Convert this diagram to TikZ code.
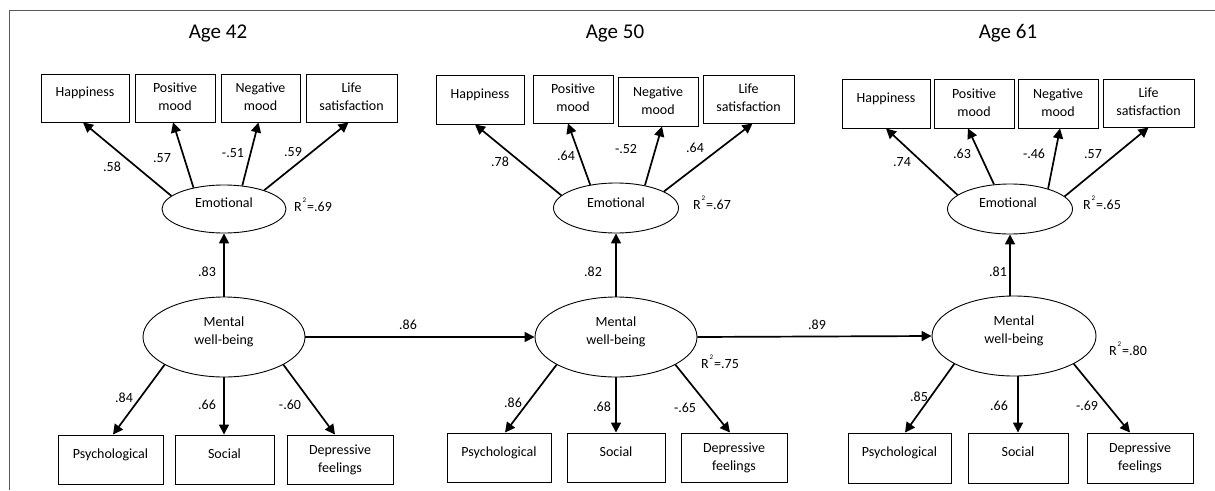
\documentclass[tikz,border=0pt]{standalone}
\usepackage{fontspec}
\setmainfont{Carlito}
\usetikzlibrary{arrows.meta,shapes.geometric}
\newcommand\lblfont{\fontsize{14}{18}\selectfont}
\newcommand\ttlfont{\fontsize{21}{25}\selectfont}
\newcommand\twol[2]{\strut#1\\\strut#2}
\newcommand\rsq[1]{R\kern1pt\raisebox{8.5pt}{\fontsize{7}{7}\selectfont 2}\kern1pt=#1}
\tikzset{
  box/.style={draw, line width=0.9pt, inner sep=0pt, minimum height=48pt, align=center, font=\lblfont},
  onel/.style={text height=9pt, text depth=12pt},
  lat/.style={draw, ellipse, line width=0.9pt, inner sep=0pt},
  arr/.style={line width=1.7pt, -{Triangle[length=10pt,width=10pt]}},
  num/.style={font=\lblfont, inner sep=0pt, align=center},
  ttl/.style={font=\ttlfont, inner sep=0pt},
}
\begin{document}
\begin{tikzpicture}[x=1pt,y=-1pt]
\useasboundingbox (0,0) rectangle (1215,490);
\fill[white] (0,0) rectangle (1215,490);
\draw[black!65, line width=1pt] (9.5,490) -- (9.5,10.5) -- (1215,10.5);

% ---------- Age 42 ----------
\node[ttl] (tA) at (218,33) {Age 42};
\node[box,onel,minimum width=88pt] (hapA) at (85,98) {Happiness};
\node[box,minimum width=80pt] (posA) at (175,98) {\twol{Positive}{mood}};
\node[box,minimum width=79pt] (negA) at (260.5,98) {\twol{Negative}{mood}};
\node[box,minimum width=91pt] (lifA) at (351.5,98) {\twol{Life}{satisfaction}};
\node[lat,minimum width=124pt,minimum height=48pt] (emoA) at (224,209) {};
\node[num] (emoAt) at (224,203) {Emotional};
\node[lat,minimum width=162pt,minimum height=80pt] (mwbA) at (224,337) {};
\node[num] (mwbAt) at (224,332) {\twol{Mental}{well-being}};
\node[box,onel,minimum width=105pt,minimum height=49pt] (psyA) at (110.5,459.5) {Psychological};
\node[box,onel,minimum width=99pt,minimum height=49pt] (socA) at (224.5,459.5) {Social};
\node[box,minimum width=106pt,minimum height=49pt] (depA) at (340,459.5) {\twol{Depressive}{feelings}};
\node[num] (rA) at (313,205) {\rsq{.69}};

\draw[arr] (emoA.166) -- ([xshift=-2pt]hapA.south);
\draw[arr] (emoA.145) -- ([xshift=-2pt]posA.south);
\draw[arr] (emoA.52) -- ([xshift=-2pt]negA.south);
\draw[arr] (emoA.25) -- ([xshift=-3pt]lifA.south);
\draw[arr] (mwbA.north) -- (emoA.south);
\draw[arr] (mwbA.205) -- ([xshift=2.5pt]psyA.north);
\draw[arr] (mwbA.south) -- (socA.north -| mwbA.south);
\draw[arr] (mwbA.335) -- ([xshift=-5pt]depA.north);

\node[num] (a1) at (112,167) {.58};
\node[num] (a2) at (162,158) {.57};
\node[num] (a3) at (233,153) {-.51};
\node[num] (a4) at (293,152) {.59};
\node[num] (a5) at (207,272) {.83};
\node[num] (a6) at (124,398) {.84};
\node[num] (a7) at (207,405) {.66};
\node[num] (a8) at (290,405) {-.60};

% ---------- Age 50 ----------
\node[ttl] (tB) at (615,33) {Age 50};
\node[box,onel,minimum width=88pt,minimum height=49pt] (hapB) at (480,99.5) {Happiness};
\node[box,minimum width=80pt] (posB) at (573,99) {\twol{Positive}{mood}};
\node[box,minimum width=80pt,minimum height=49pt] (negB) at (658,101.5) {\twol{Negative}{mood}};
\node[box,minimum width=91pt] (lifB) at (748.5,99) {\twol{Life}{satisfaction}};
\node[lat,minimum width=125pt,minimum height=50pt] (emoB) at (616,208) {};
\node[num] (emoBt) at (616,203) {Emotional};
\node[lat,minimum width=162pt,minimum height=80pt] (mwbB) at (616,337) {};
\node[num] (mwbBt) at (616,332) {\twol{Mental}{well-being}};
\node[box,onel,minimum width=104pt,minimum height=49pt] (psyB) at (499,457.5) {Psychological};
\node[box,onel,minimum width=98pt,minimum height=49pt] (socB) at (616,457.5) {Social};
\node[box,minimum width=106pt,minimum height=49pt] (depB) at (734,457.5) {\twol{Depressive}{feelings}};
\node[num] (rB) at (712,203) {\rsq{.67}};
\node[num] (rB2) at (720,362) {\rsq{.75}};

\draw[arr] (emoB.167) -- ([xshift=-5pt]hapB.south);
\draw[arr] (emoB.138) -- ([xshift=-5pt]posB.south);
\draw[arr] (emoB.38) -- ([xshift=4pt]negB.south);
\draw[arr] (emoB.19) -- ([xshift=4pt]lifB.south);
\draw[arr] (mwbB.north) -- (emoB.south);
\draw[arr] (mwbB.205) -- ([xshift=6pt]psyB.north);
\draw[arr] (mwbB.south) -- (socB.north);
\draw[arr] (mwbB.335) -- ([xshift=-4pt]depB.north);
\draw[arr] (mwbA.east) -- (mwbB.west);

\node[num] (b1) at (500,162) {.78};
\node[num] (b2) at (566,156) {.64};
\node[num] (b3) at (626,149) {-.52};
\node[num] (b4) at (695,148) {.64};
\node[num] (b5) at (593,272) {.82};
\node[num] (b6) at (513,403) {.86};
\node[num] (b7) at (602,407) {.68};
\node[num] (b8) at (685,408) {-.65};
\node[num] (ab) at (408,325) {.86};

% ---------- Age 61 ----------
\node[ttl] (tC) at (1008,33) {Age 61};
\node[box,onel,minimum width=88pt,minimum height=49pt] (hapC) at (886,103.5) {Happiness};
\node[box,minimum width=80pt,minimum height=49pt] (posC) at (974,103.5) {\twol{Positive}{mood}};
\node[box,minimum width=80pt,minimum height=49pt] (negC) at (1058,103.5) {\twol{Negative}{mood}};
\node[box,minimum width=91pt] (lifC) at (1148.5,103) {\twol{Life}{satisfaction}};
\node[lat,minimum width=125pt,minimum height=50pt] (emoC) at (1010,209) {};
\node[num] (emoCt) at (1008,203) {Emotional};
\node[lat,minimum width=164pt,minimum height=80pt] (mwbC) at (1014,336) {};
\node[num] (mwbCt) at (1014,331) {\twol{Mental}{well-being}};
\node[box,onel,minimum width=103pt,minimum height=50pt] (psyC) at (899.5,458) {Psychological};
\node[box,onel,minimum width=100pt,minimum height=50pt] (socC) at (1018,458) {Social};
\node[box,minimum width=106pt,minimum height=50pt] (depC) at (1140,458) {\twol{Depressive}{feelings}};
\node[num] (rC) at (1102,203) {\rsq{.65}};
\node[num] (rC2) at (1128,349) {\rsq{.80}};

\draw[arr] (emoC.165) -- (hapC.south);
\draw[arr] (emoC.123) -- ([xshift=-6pt]posC.south);
\draw[arr] (emoC.28) -- ([xshift=2pt]negC.south);
\draw[arr] (emoC.13) -- (lifC.south);
\draw[arr] (mwbC.north -| emoC.south) -- (emoC.south);
\draw[arr] (mwbC.205) -- ([xshift=5.5pt]psyC.north);
\draw[arr] (socC.north |- mwbC.south) -- (socC.north);
\draw[arr] (mwbC.335) -- ([xshift=-10pt]depC.north);
\draw[arr] (mwbB.east) -- (mwbC.west);

\node[num] (c1) at (902,162) {.74};
\node[num] (c2) at (962,154) {.63};
\node[num] (c3) at (1034,154) {-.46};
\node[num] (c4) at (1093,154) {.57};
\node[num] (c5) at (998,272) {.81};
\node[num] (c6) at (919,397) {.85};
\node[num] (c7) at (999,406) {.66};
\node[num] (c8) at (1087,406) {-.69};
\node[num] (bc) at (817,325) {.89};
\end{tikzpicture}
\end{document}
